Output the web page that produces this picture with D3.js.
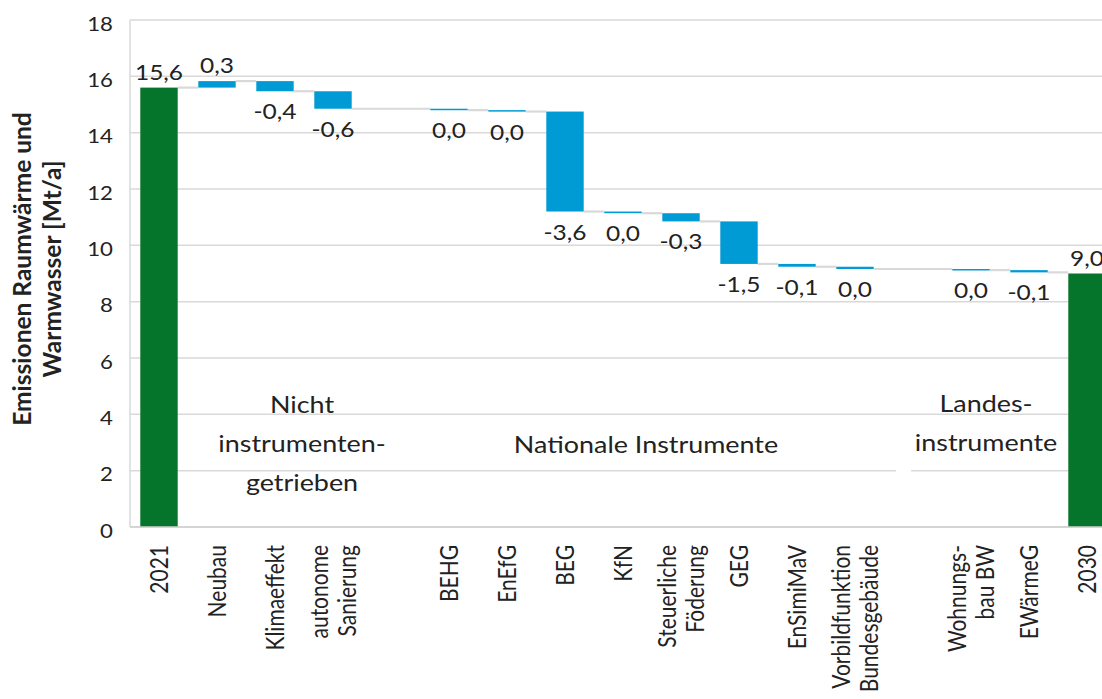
<!DOCTYPE html>
<html>
<head>
<meta charset="utf-8">
<script src="https://cdn.jsdelivr.net/npm/d3@7"></script>
<style>
  html, body { margin: 0; padding: 0; background: #ffffff; }
  svg { display: block; }
  text { font-family: Lato, "Open Sans", sans-serif; fill: #222; }
</style>
</head>
<body>
<svg id="chart" width="1102" height="699"></svg>
<script>
// ---- data ----
const categories = ["2021", "Neubau", "Klimaeffekt", "autonome Sanierung", "gap1",
  "BEHG", "EnEfG", "BEG", "KfN", "Steuerliche Föderung", "GEG", "EnSimiMaV",
  "Vorbildfunktion Bundesgebäude", "gap2", "Wohnungsbau BW", "EWärmeG", "2030"];
const categoryLabelLines = [["2021"], ["Neubau"], ["Klimaeffekt"], ["autonome", "Sanierung"], [],
  ["BEHG"], ["EnEfG"], ["BEG"], ["KfN"], ["Steuerliche", "Föderung"], ["GEG"], ["EnSimiMaV"],
  ["Vorbildfunktion", "Bundesgebäude"], [], ["Wohnungs-", "bau BW"], ["EWärmeG"], ["2030"]];
const kinds = ["total", "delta", "delta", "delta", "gap",
  "delta", "delta", "delta", "delta", "delta", "delta", "delta",
  "delta", "gap", "delta", "delta", "total"];
const values = [15.6, 0.23, -0.36, -0.62, null,
  -0.05, -0.05, -3.55, -0.06, -0.29, -1.51, -0.10,
  -0.08, null, -0.04, -0.08, 9.0];
const valueLabels = ["15,6", "0,3", "-0,4", "-0,6", "",
  "0,0", "0,0", "-3,6", "0,0", "-0,3", "-1,5", "-0,1",
  "0,0", "", "0,0", "-0,1", "9,0"];
const yTicks = [0, 2, 4, 6, 8, 10, 12, 14, 16, 18];
const yTitleLines = ["Emissionen Raumwärme und", "Warmwasser [Mt/a]"];
const groupNotes = [
  { lines: ["Nicht", "instrumenten-", "getrieben"], from: 1, to: 3 },
  { lines: ["Nationale Instrumente"], from: 5, to: 12 },
  { lines: ["Landes-", "instrumente"], from: 14, to: 15 }
];

// ---- layout ----
const W = 1102, H = 699;
const plotLeft = 130, plotTop = 20, plotBottom = 527;
const step = 58;
const GREEN = "#05752B", BLUE = "#009BD5", GRID = "#d9d9d9";
const SX = 1.2; // horizontal text stretch seen in the reference

const svg = d3.select("#chart");
svg.append("rect").attr("width", W).attr("height", H).attr("fill", "#fff");

const x = d3.scaleBand()
  .domain(d3.range(categories.length))
  .range([plotLeft, plotLeft + step * categories.length])
  .paddingInner(0.355).paddingOuter(0.1775);
const y = d3.scaleLinear().domain([0, 18]).range([plotBottom, plotTop]);
const cx = i => x(i) + x.bandwidth() / 2;

// waterfall geometry
const bars = [];
let level = 0;
values.forEach((v, i) => {
  if (kinds[i] === "gap") return;
  if (kinds[i] === "total") {
    bars.push({ i, start: 0, end: v, kind: "total" });
    level = v;
  } else {
    bars.push({ i, start: level, end: level + v, kind: "delta", v });
    level = level + v;
  }
});

// gridlines
svg.append("g").selectAll("line").data(yTicks).join("line")
  .attr("x1", plotLeft).attr("x2", W)
  .attr("y1", d => y(d)).attr("y2", d => y(d))
  .attr("stroke", GRID).attr("stroke-width", 1.5);

// small white gap on the 2-line (from reference)
svg.append("rect").attr("x", 896).attr("y", y(2) - 3).attr("width", 15).attr("height", 6).attr("fill", "#fff");

// left axis line
svg.append("line").attr("x1", plotLeft).attr("x2", plotLeft)
  .attr("y1", plotTop).attr("y2", plotBottom)
  .attr("stroke", GRID).attr("stroke-width", 1.5);

// y axis labels
const yAxis = svg.append("g").attr("transform", `translate(${plotLeft},0)`)
  .call(d3.axisLeft(y).tickValues(yTicks).tickFormat(d3.format("d")).tickSize(0));
yAxis.select(".domain").remove();
yAxis.selectAll("text")
  .attr("x", null).attr("dy", null)
  .attr("transform", "translate(-17,10) scale(" + SX + ",1)")
  .attr("text-anchor", "end")
  .style("font-family", "Lato")
  .style("font-size", "18.5px")
  .attr("fill", "#222");

// connectors
const conn = [];
for (let k = 0; k < bars.length - 1; k++) {
  const a = bars[k], b = bars[k + 1];
  conn.push({ x1: x(a.i) + x.bandwidth(), x2: x(b.i), lv: a.end });
}
svg.append("g").selectAll("line").data(conn).join("line")
  .attr("x1", d => d.x1).attr("x2", d => d.x2)
  .attr("y1", d => y(d.lv)).attr("y2", d => y(d.lv))
  .attr("stroke", GRID).attr("stroke-width", 2.2);

// bars
svg.append("g").selectAll("rect").data(bars).join("rect")
  .attr("x", d => x(d.i))
  .attr("width", x.bandwidth())
  .attr("y", d => y(Math.max(d.start, d.end)))
  .attr("height", d => Math.max(1.5, Math.abs(y(d.start) - y(d.end))))
  .attr("fill", d => d.kind === "total" ? GREEN : BLUE);

// x axis baseline
svg.append("line").attr("x1", plotLeft).attr("x2", W)
  .attr("y1", plotBottom).attr("y2", plotBottom)
  .attr("stroke", "#d0d0d0").attr("stroke-width", 1.5);

// value labels
svg.append("g").selectAll("text").data(bars).join("text")
  .attr("transform", d => {
    const up = d.kind === "total" || d.v > 0;
    const top = y(Math.max(d.start, d.end));
    const bot = y(Math.min(d.start, d.end));
    const by = up ? top - 8 : bot + 28;
    return `translate(${cx(d.i)},${by}) scale(${SX},1)`;
  })
  .attr("text-anchor", "middle")
  .style("font-size", "20.4px")
  .text(d => valueLabels[d.i]);

// category labels (rotated)
const xl = svg.append("g");
categoryLabelLines.forEach((lines, i) => {
  const n = lines.length;
  lines.forEach((t, j) => {
    const off = 9 + (j - (n - 1) / 2) * 28;
    xl.append("text")
      .attr("transform", `translate(${cx(i) + off},545) scale(${SX},1) rotate(-90)`)
      .attr("text-anchor", "end")
      .style("font-size", "21px")
      .text(t);
  });
});

// y title
yTitleLines.forEach((t, j) => {
  svg.append("text")
    .attr("transform", `translate(${31 + j * 30},269) rotate(-90)`)
    .attr("text-anchor", "middle")
    .style("font-size", "24.5px")
    .style("font-weight", "700")
    .text(t);
});

// group notes
const notePos = [
  { x: 302, y0: 413 },
  { x: 646, y0: 453 },
  { x: 986, y0: 412 }
];
groupNotes.forEach((g, k) => {
  g.lines.forEach((t, j) => {
    svg.append("text")
      .attr("transform", `translate(${notePos[k].x},${notePos[k].y0 + j * 39}) scale(1.17,1)`)
      .attr("text-anchor", "middle")
      .style("font-size", "23px")
      .text(t);
  });
});
</script>
</body>
</html>
